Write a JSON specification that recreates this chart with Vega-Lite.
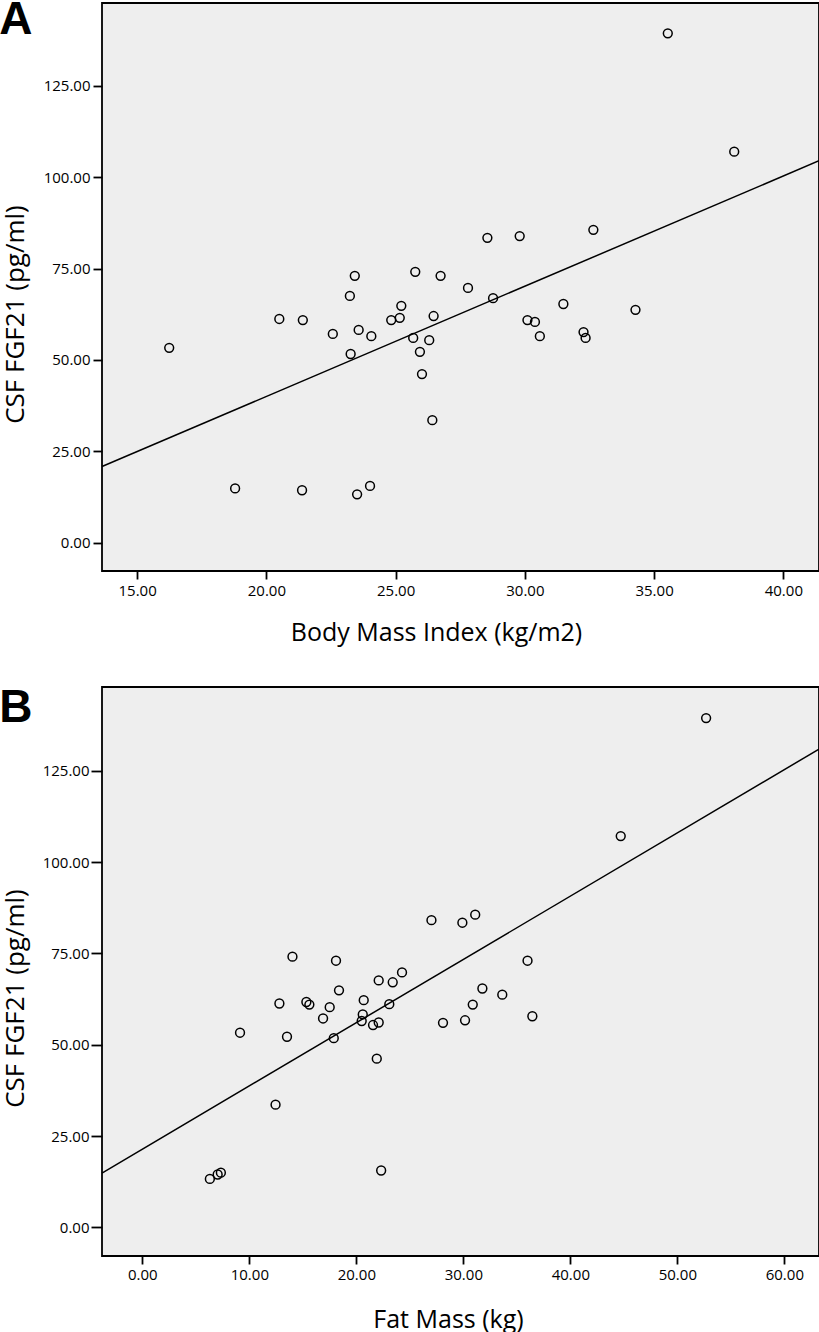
{
  "$schema": "https://vega.github.io/schema/vega-lite/v6.json",
  "background": "white",
  "padding": {"left": -2, "top": -4, "right": 0, "bottom": 0},
  "config": {
    "view": {"fill": "#eeeeee", "stroke": "#000000", "strokeWidth": 1.8},
    "axis": {
      "domain": false,
      "grid": false,
      "tickColor": "#000000",
      "tickWidth": 1.8,
      "labelFont": "Open Sans",
      "labelFontSize": 15,
      "labelColor": "#000000",
      "titleFont": "Open Sans",
      "titleFontSize": 26,
      "titleFontWeight": "normal",
      "titleColor": "#000000",
      "format": ".2f"
    }
  },
  "datasets": {
    "bmiPoints": [
      {"bmi": 35.53, "fgf21": 139.4},
      {"bmi": 38.1, "fgf21": 107.0},
      {"bmi": 32.65, "fgf21": 85.6},
      {"bmi": 28.55, "fgf21": 83.4},
      {"bmi": 29.8, "fgf21": 83.9},
      {"bmi": 23.42, "fgf21": 73.0},
      {"bmi": 25.76, "fgf21": 74.1},
      {"bmi": 26.74, "fgf21": 73.0},
      {"bmi": 27.8, "fgf21": 69.7},
      {"bmi": 23.23, "fgf21": 67.5},
      {"bmi": 28.77, "fgf21": 66.9},
      {"bmi": 31.49, "fgf21": 65.3},
      {"bmi": 25.22, "fgf21": 64.8},
      {"bmi": 34.28, "fgf21": 63.7},
      {"bmi": 26.47, "fgf21": 62.0},
      {"bmi": 20.5, "fgf21": 61.2},
      {"bmi": 21.41, "fgf21": 60.9},
      {"bmi": 24.83, "fgf21": 60.9},
      {"bmi": 25.16, "fgf21": 61.5},
      {"bmi": 30.1, "fgf21": 60.9},
      {"bmi": 30.39, "fgf21": 60.4},
      {"bmi": 23.57, "fgf21": 58.2},
      {"bmi": 22.57, "fgf21": 57.1},
      {"bmi": 24.06, "fgf21": 56.5},
      {"bmi": 32.27, "fgf21": 57.6},
      {"bmi": 30.58, "fgf21": 56.5},
      {"bmi": 32.35, "fgf21": 56.0},
      {"bmi": 25.68, "fgf21": 56.0},
      {"bmi": 26.3, "fgf21": 55.4},
      {"bmi": 16.24, "fgf21": 53.3},
      {"bmi": 23.26, "fgf21": 51.6},
      {"bmi": 25.94, "fgf21": 52.2},
      {"bmi": 26.02, "fgf21": 46.1},
      {"bmi": 26.42, "fgf21": 33.5},
      {"bmi": 18.79, "fgf21": 14.8},
      {"bmi": 21.38, "fgf21": 14.3},
      {"bmi": 23.51, "fgf21": 13.2},
      {"bmi": 24.01, "fgf21": 15.5}
    ],
    "bmiLine": [
      {"bmi": 13.64, "fgf21": 20.8},
      {"bmi": 41.38, "fgf21": 104.5}
    ],
    "fatPoints": [
      {"fat": 52.69, "fgf21": 139.4},
      {"fat": 44.71, "fgf21": 107.1},
      {"fat": 27.02, "fgf21": 84.1},
      {"fat": 29.91, "fgf21": 83.4},
      {"fat": 31.11, "fgf21": 85.6},
      {"fat": 14.03, "fgf21": 74.1},
      {"fat": 18.1, "fgf21": 73.0},
      {"fat": 36.0, "fgf21": 73.0},
      {"fat": 24.27, "fgf21": 69.8},
      {"fat": 22.09, "fgf21": 67.6},
      {"fat": 23.4, "fgf21": 67.1},
      {"fat": 31.78, "fgf21": 65.4},
      {"fat": 18.38, "fgf21": 64.9},
      {"fat": 33.64, "fgf21": 63.7},
      {"fat": 20.69, "fgf21": 62.2},
      {"fat": 12.81, "fgf21": 61.3},
      {"fat": 15.33, "fgf21": 61.7},
      {"fat": 15.61, "fgf21": 61.0},
      {"fat": 23.08, "fgf21": 61.1},
      {"fat": 30.88, "fgf21": 61.0},
      {"fat": 17.51, "fgf21": 60.3},
      {"fat": 20.6, "fgf21": 58.3},
      {"fat": 16.89, "fgf21": 57.2},
      {"fat": 36.45, "fgf21": 57.8},
      {"fat": 20.5, "fgf21": 56.5},
      {"fat": 22.09, "fgf21": 56.1},
      {"fat": 21.56, "fgf21": 55.4},
      {"fat": 28.1, "fgf21": 56.0},
      {"fat": 30.16, "fgf21": 56.7},
      {"fat": 9.13, "fgf21": 53.3},
      {"fat": 13.52, "fgf21": 52.2},
      {"fat": 17.89, "fgf21": 51.8},
      {"fat": 21.91, "fgf21": 46.2},
      {"fat": 12.45, "fgf21": 33.6},
      {"fat": 6.31, "fgf21": 13.3},
      {"fat": 7.04, "fgf21": 14.5},
      {"fat": 7.34, "fgf21": 15.0},
      {"fat": 22.32, "fgf21": 15.6}
    ],
    "fatLine": [
      {"fat": -3.77, "fgf21": 14.9},
      {"fat": 63.24, "fgf21": 130.9}
    ]
  },
  "columns": 1,
  "align": "none",
  "spacing": 38,
  "concat": [
    {
      "title": {"text": "A", "anchor": "start", "frame": "bounds", "font": "Liberation Sans", "fontSize": 46, "fontWeight": "bold", "color": "#000000", "offset": 0, "dy": 41, "dx": -3},
      "width": 717,
      "height": 568,
      "layer": [
        {
          "data": {"name": "bmiPoints"},
          "mark": {"type": "point", "shape": "circle", "filled": false, "color": "#000000", "strokeWidth": 1.5, "size": 78, "opacity": 1},
          "encoding": {
            "x": {"field": "bmi", "type": "quantitative",
                  "scale": {"domain": [13.64, 41.38], "nice": false, "zero": false},
                  "axis": {"values": [15, 20, 25, 30, 35, 40], "title": "Body Mass Index (kg/m2)", "titleFontSize": 25, "titleX": 334, "tickSize": 8, "labelPadding": 4, "titlePadding": 22}},
            "y": {"field": "fgf21", "type": "quantitative",
                  "scale": {"domain": [-7.8, 147.7], "nice": false, "zero": false},
                  "axis": {"values": [0, 25, 50, 75, 100, 125], "title": "CSF FGF21 (pg/ml)", "tickSize": 9, "labelPadding": 3, "titlePadding": 15, "titleY": 311}}
          }
        },
        {
          "data": {"name": "bmiLine"},
          "mark": {"type": "line", "color": "#000000", "strokeWidth": 1.5},
          "encoding": {
            "x": {"field": "bmi", "type": "quantitative"},
            "y": {"field": "fgf21", "type": "quantitative"}
          }
        }
      ]
    },
    {
      "title": {"text": "B", "anchor": "start", "frame": "bounds", "font": "Liberation Sans", "fontSize": 46, "fontWeight": "bold", "color": "#000000", "offset": 0, "dy": 45, "dx": -3},
      "width": 717,
      "height": 569,
      "layer": [
        {
          "data": {"name": "fatPoints"},
          "mark": {"type": "point", "shape": "circle", "filled": false, "color": "#000000", "strokeWidth": 1.5, "size": 78, "opacity": 1},
          "encoding": {
            "x": {"field": "fat", "type": "quantitative",
                  "scale": {"domain": [-3.77, 63.24], "nice": false, "zero": false},
                  "axis": {"values": [0, 10, 20, 30, 40, 50, 60], "title": "Fat Mass (kg)", "titleFontSize": 25, "titleX": 346, "tickSize": 8, "labelPadding": 3, "titlePadding": 25}},
            "y": {"field": "fgf21", "type": "quantitative",
                  "scale": {"domain": [-7.8, 147.9], "nice": false, "zero": false},
                  "axis": {"values": [0, 25, 50, 75, 100, 125], "title": "CSF FGF21 (pg/ml)", "tickSize": 11, "labelPadding": 2, "titlePadding": 14, "titleY": 311}}
          }
        },
        {
          "data": {"name": "fatLine"},
          "mark": {"type": "line", "color": "#000000", "strokeWidth": 1.5},
          "encoding": {
            "x": {"field": "fat", "type": "quantitative"},
            "y": {"field": "fgf21", "type": "quantitative"}
          }
        }
      ]
    }
  ]
}
